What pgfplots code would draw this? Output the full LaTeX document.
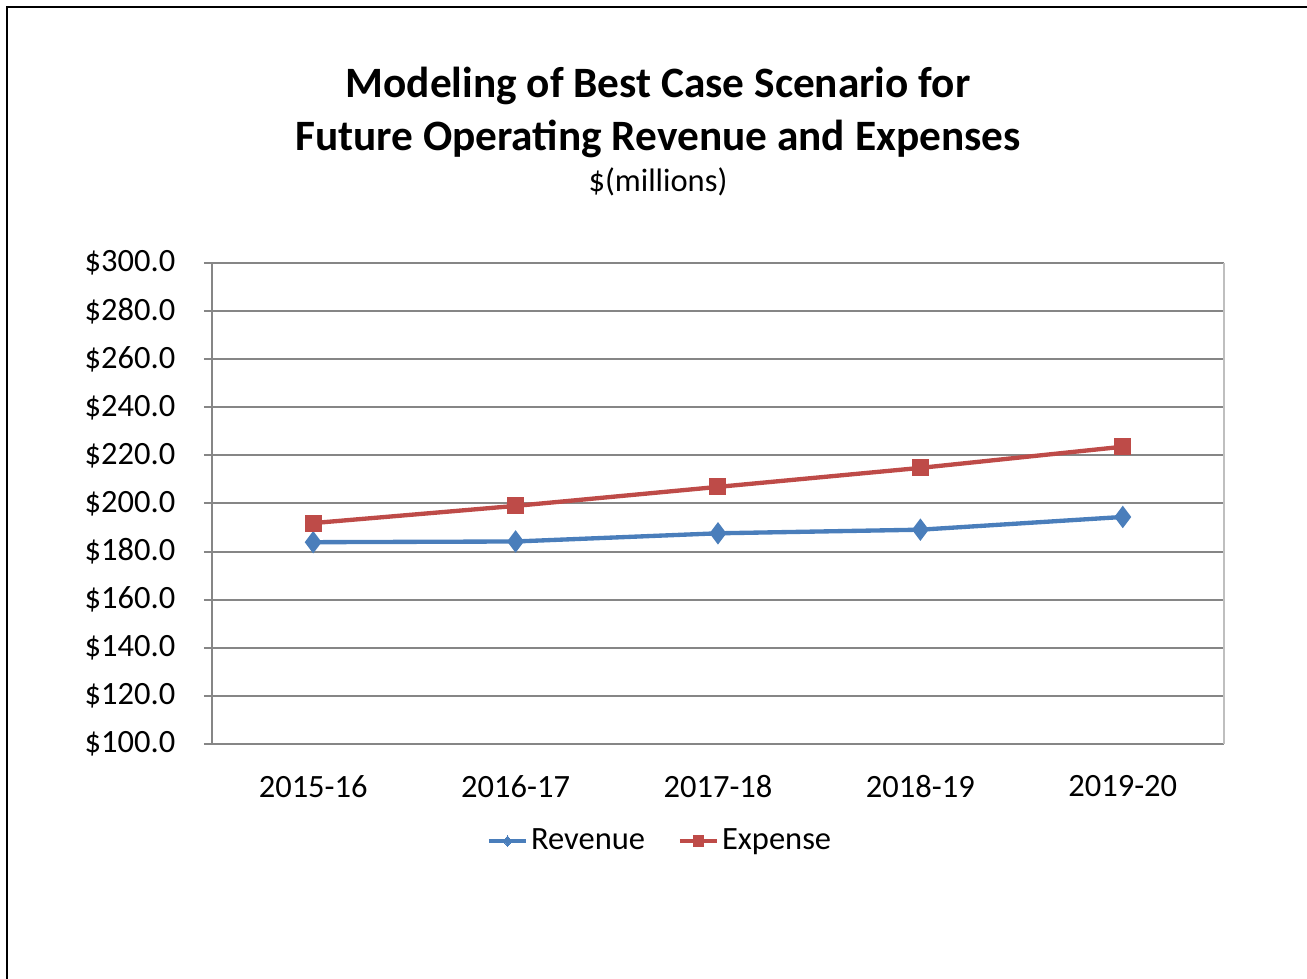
\documentclass[border=0pt]{standalone}
\usepackage{pgfplots}
\pgfplotsset{compat=1.18}
\usepackage{fontspec}
\setmainfont{Carlito}
\definecolor{revblue}{HTML}{4A7EBB}
\definecolor{expred}{HTML}{BE4B48}
\definecolor{axgray}{HTML}{868686}
\definecolor{bordgray}{HTML}{BFBFBF}
\begin{document}
\begin{tikzpicture}
\useasboundingbox (0pt,0pt) rectangle (392.1pt,293.7pt);
\draw[line width=0.6pt] (2.1pt,-3pt) -- (2.1pt,291.6pt) -- (395pt,291.6pt);
\node[font=\fontsize{13}{15}\selectfont\bfseries] at (197.4pt,267.9pt) {Modeling of Best Case Scenario for};
\node[font=\fontsize{13}{15}\selectfont\bfseries] at (197.4pt,252.0pt) {Future Operating Revenue and Expenses};
\node[font=\fontsize{9.75}{11}\selectfont] at (197.4pt,239.1pt) {\$(millions)};
\begin{axis}[
  at={(63.6pt,70.5pt)}, anchor=south west,
  scale only axis, width=303.6pt, height=144.3pt,
  xmin=-0.5, xmax=4.5, ymin=100, ymax=300,
  axis x line*=bottom, axis y line*=left,
  axis line style={color=axgray, line width=0.6pt},
  xtick={0,1,2,3,4},
  xticklabels={2015-16,2016-17,2017-18,2018-19,2019-20},
  x tick style={draw=none},
  minor xtick={-0.5,0.5,1.5,2.5,3.5,4.5},
  minor x tick style={color=axgray, line width=0.6pt},
  minor tick length=2.4pt,
  ytick={100,120,...,300},
  y tick style={color=axgray, line width=0.6pt},
  major tick length=2.4pt,
  tick align=outside,
  ymajorgrids,
  major grid style={color=axgray, line width=0.6pt},
  yticklabel={\$\pgfmathprintnumber[fixed,fixed zerofill,precision=1]{\tick}},
  /pgf/number format/assume math mode=true,
  ticklabel style={font=\fontsize{9.75}{11}\selectfont, text=black},
  yticklabel style={xshift=-5.1pt},
  xticklabel style={yshift=-3.6pt},
  legend image code/.code={%
    \draw[#1] (0pt,0pt) -- (11.2pt,0pt);
    \draw[#1, mark size=1.6pt, mark options={line width=0pt}] plot coordinates {(5.6pt,0pt)};},
  legend style={at={(0.443,-0.202)}, anchor=center, draw=none, legend columns=2,
    font=\fontsize{9.75}{11}\selectfont,
    nodes={inner sep=0.8pt},
    /tikz/every even column/.append style={column sep=9pt}},
  clip=false,
]
\addplot[color=revblue, line width=1.3pt, mark=diamond*, mark size=2.3pt, mark options={fill=revblue}]
  coordinates {(0,183.9) (1,184.2) (2,187.6) (3,189.1) (4,194.4)};
\addlegendentry{Revenue}
\addplot[color=expred, line width=1.3pt, mark=square*, mark size=1.9pt, mark options={fill=expred}]
  coordinates {(0,191.85) (1,199.0) (2,206.9) (3,214.8) (4,223.6)};
\addlegendentry{Expense}
\draw[color=bordgray, line width=0.6pt] (axis cs:4.5,100) -- (axis cs:4.5,300);
\end{axis}
\end{tikzpicture}
\end{document}
